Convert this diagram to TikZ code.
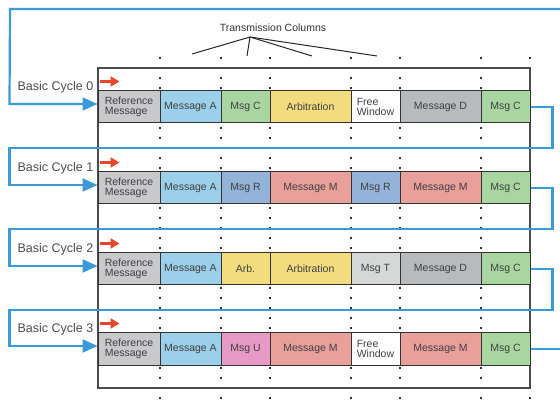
\documentclass[tikz,border=0pt]{standalone}
\usepackage{fontspec}
\setmainfont{Liberation Sans}
\usetikzlibrary{arrows.meta}

\definecolor{refgray}{HTML}{C9C9CB}
\definecolor{msgblue}{HTML}{9CCFE9}
\definecolor{msggreen}{HTML}{A9D6A0}
\definecolor{arbyellow}{HTML}{F3DC7E}
\definecolor{msggray}{HTML}{B7BBBD}
\definecolor{rblue}{HTML}{94B3D9}
\definecolor{msgsalmon}{HTML}{E9A09A}
\definecolor{tgray}{HTML}{D6D8D8}
\definecolor{upink}{HTML}{E79AC5}
\definecolor{loopblue}{HTML}{3B9AD8}
\definecolor{startred}{HTML}{E8472C}

\begin{document}
\begin{tikzpicture}[x=1pt,y=-1pt,
	msgbox/.style={draw=black!80,line width=1pt,inner sep=1pt,minimum height=32,
		font=\fontsize{10.5}{10.5}\selectfont,text=black!75},
	colpoints/.style={draw=black!80,line width=2.2pt,dash pattern=on 2pt off 8pt},
	cyclelab/.style={font=\fontsize{12.5}{12.5}\selectfont,text=black!70,inner sep=0pt,anchor=east},
	loopline/.style={draw=loopblue,line width=2.2pt},
	looparrow/.style={loopline,-{Triangle[length=15pt,width=13pt]}},
	startarrow/.style={draw=startred,line width=2.5pt,-{Triangle[length=9pt,width=10pt]}}]
	%
	% Cadre de l'image
	\useasboundingbox (0,0) rectangle (560,406);
	%
	% Colonnes de transmission
	\foreach \x in {160,221,270,351,400,481,530}
		\draw[colpoints] (\x,57) -- (\x,406);
	\draw[draw=black!70,line width=1.5pt] (98,68) rectangle (530,388);
	%
	% Legende du haut
	\node[font=\fontsize{10.5}{10.5}\selectfont,text=black!80] (tcol) at (273,28) {Transmission Columns};
	\coordinate (tcp) at (250,37);
	\coordinate (t1) at (192,54);
	\coordinate (t2) at (247,56);
	\coordinate (t3) at (312,56);
	\coordinate (t4) at (377,56);
	\foreach \t in {t1,t2,t3,t4}
		\draw[black!85,line width=1pt] (tcp) -- (\t);
	%
	% Cycle 0
	\foreach \xa/\xb/\col/\txt [count=\i] in {98/160/refgray/{Reference\\Message},160/221/msgblue/Message A,
		221/270/msggreen/Msg C,270/351/arbyellow/Arbitration,351/400/white/{Free\\Window},
		400/481/msggray/Message D,481/530/msggreen/Msg C}
		\node[msgbox,fill=\col,minimum width={\xb-\xa},align=left] (m0-\i) at ({(\xa+\xb)/2},107) {\txt};
	%
	% Cycle 1
	\foreach \xa/\xb/\col/\txt [count=\i] in {98/160/refgray/{Reference\\Message},160/221/msgblue/Message A,
		221/270/rblue/Msg R,270/351/msgsalmon/Message M,351/400/rblue/Msg R,
		400/481/msgsalmon/Message M,481/530/msggreen/Msg C}
		\node[msgbox,fill=\col,minimum width={\xb-\xa},align=left] (m1-\i) at ({(\xa+\xb)/2},188) {\txt};
	%
	% Cycle 2
	\foreach \xa/\xb/\col/\txt [count=\i] in {98/160/refgray/{Reference\\Message},160/221/msgblue/Message A,
		221/270/arbyellow/Arb.,270/351/arbyellow/Arbitration,351/400/tgray/Msg T,
		400/481/msggray/Message D,481/530/msggreen/Msg C}
		\node[msgbox,fill=\col,minimum width={\xb-\xa},align=left] (m2-\i) at ({(\xa+\xb)/2},269) {\txt};
	%
	% Cycle 3
	\foreach \xa/\xb/\col/\txt [count=\i] in {98/160/refgray/{Reference\\Message},160/221/msgblue/Message A,
		221/270/upink/Msg U,270/351/msgsalmon/Message M,351/400/white/{Free\\Window},
		400/481/msgsalmon/Message M,481/530/msggreen/Msg C}
		\node[msgbox,fill=\col,minimum width={\xb-\xa},align=left] (m3-\i) at ({(\xa+\xb)/2},349) {\txt};
	%
	% Etiquettes et fleches de depart
	\foreach \r in {0,1,2,3} {
		\node[cyclelab] (lab\r) at ([shift={(-4,-20)}]m\r-1.west) {Basic Cycle \r};
		\draw[startarrow] ([shift={(2,-9)}]m\r-1.north west) -- ++(20,0);
	}
	%
	% Boucles entre cycles
	\coordinate (cin) at (562,9);
	\coordinate (cout) at (562,349);
	\draw[looparrow] (cin) -- (10,9) -- ([yshift=3pt,xshift=-88pt]m0-1.west) -- ([yshift=3pt]m0-1.west);
	\foreach \r/\s in {0/1,1/2,2/3}
		\draw[looparrow] (m\r-7.east) -- ++(22,0) -- ++(0,41) -| ([yshift=3pt,xshift=-88pt]m\s-1.west) -- ([yshift=3pt]m\s-1.west);
	\draw[loopline] (m3-7.east) -- (cout);
\end{tikzpicture}
\end{document}
